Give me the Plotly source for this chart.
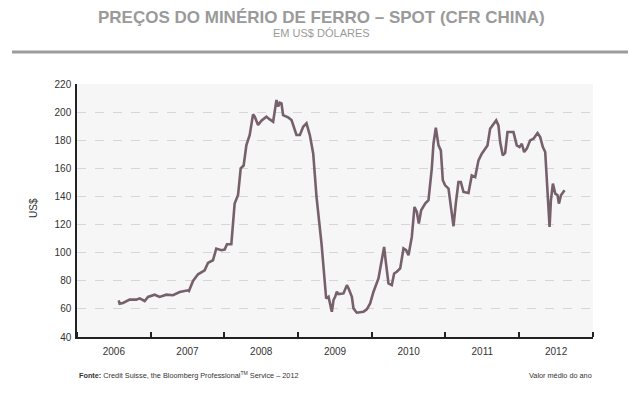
import datetime as dt
import plotly.graph_objects as go

# ---- data (decimal year, US$) ----
anos_decimais = [
    2006.566, 2006.579, 2006.624, 2006.715, 2006.805, 2006.851, 2006.919, 2006.964,
    2007.054, 2007.122, 2007.213, 2007.303, 2007.394, 2007.507, 2007.520, 2007.575,
    2007.643, 2007.733, 2007.778, 2007.846, 2007.891, 2007.959, 2008.005, 2008.036,
    2008.095, 2008.140, 2008.186, 2008.222, 2008.262, 2008.299, 2008.344, 2008.389,
    2008.412, 2008.457, 2008.502, 2008.570, 2008.615, 2008.661, 2008.706, 2008.729,
    2008.751, 2008.774, 2008.796, 2008.864, 2008.910, 2008.932, 2008.977, 2009.023,
    2009.068, 2009.113, 2009.158, 2009.204, 2009.249, 2009.317, 2009.344, 2009.380,
    2009.412, 2009.434, 2009.457, 2009.480, 2009.502, 2009.525, 2009.548, 2009.615,
    2009.661, 2009.683, 2009.729, 2009.751, 2009.796, 2009.887, 2009.932, 2009.977,
    2010.023, 2010.090, 2010.136, 2010.167, 2010.190, 2010.226, 2010.271, 2010.303,
    2010.339, 2010.385, 2010.430, 2010.466, 2010.498, 2010.543, 2010.579, 2010.611,
    2010.638, 2010.670, 2010.724, 2010.769, 2010.814, 2010.837, 2010.869, 2010.905,
    2010.937, 2010.964, 2010.995, 2011.041, 2011.086, 2011.109, 2011.140, 2011.176,
    2011.208, 2011.244, 2011.312, 2011.357, 2011.403, 2011.448, 2011.493, 2011.538,
    2011.570, 2011.606, 2011.652, 2011.688, 2011.719, 2011.742, 2011.778, 2011.810,
    2011.842, 2011.878, 2011.923, 2011.968, 2012.005, 2012.036, 2012.068, 2012.104,
    2012.149, 2012.195, 2012.249, 2012.285, 2012.321, 2012.353, 2012.376, 2012.394,
    2012.412, 2012.430, 2012.457, 2012.489, 2012.520, 2012.538, 2012.566, 2012.615,
]
precos = [
    66.1, 63.7, 64.2, 66.6, 66.6, 67.5, 65.6, 68.5,
    70.1, 68.5, 70.1, 69.7, 72.0, 73.2, 72.7, 79.9,
    84.6, 87.5, 92.7, 94.6, 102.9, 101.7, 102.2, 106.0,
    106.0, 135.0, 141.0, 160.0, 162.0, 176.5, 183.7, 198.4,
    196.7, 190.8, 193.9, 196.7, 194.8, 193.2, 208.6, 203.9,
    206.7, 206.2, 197.9, 196.2, 194.4, 190.8, 183.7, 183.7,
    189.6, 192.0, 183.7, 170.6, 139.7, 106.5, 87.6, 67.4,
    68.6, 63.9, 58.0, 66.3, 68.6, 72.2, 70.5, 71.0,
    76.9, 74.6, 68.6, 60.3, 57.3, 58.0, 59.6, 63.9,
    72.2, 81.7, 93.5, 104.1, 93.5, 78.1, 76.9, 85.2,
    86.4, 88.8, 103.0, 101.8, 98.2, 111.2, 132.5, 129.0,
    120.7, 130.2, 134.9, 137.3, 159.8, 177.5, 188.9, 176.3,
    172.8, 151.5, 147.9, 145.6, 127.8, 118.8, 134.9, 150.3,
    150.3, 143.2, 142.5, 155.0, 153.8, 165.7, 170.4, 174.0,
    176.3, 188.2, 191.7, 194.1, 190.5, 178.7, 169.2, 170.9,
    185.8, 185.8, 185.8, 176.3, 175.1, 177.5, 171.6, 174.0,
    179.9, 181.1, 185.1, 182.2, 175.1, 171.6, 149.1, 127.8,
    118.3, 137.3, 149.1, 142.0, 140.8, 134.9, 140.8, 144.4,
]

titulo = "PREÇOS DO MINÉRIO DE FERRO – SPOT (CFR CHINA)"
subtitulo = "EM US$ DÓLARES"
rotulo_y = "US$"
fonte = "<b>Fonte:</b> Credit Suisse, the Bloomberg Professional<sup>TM</sup> Service – 2012"
nota = "Valor médio do ano"


def para_data(a):
    ano = int(a)
    ini = dt.datetime(ano, 1, 1)
    fim = dt.datetime(ano + 1, 1, 1)
    return ini + (fim - ini) * (a - ano)


datas = [para_data(a) for a in anos_decimais]

# page body has an 8px margin, so the figure is drawn 8px in from the corner
OFF = 8
W, H = 642 - OFF, 399 - OFF
L, R, T, B = 77 - OFF, 49, 84 - OFF, 62
PW, PH = W - L - R, H - T - B


def px(x):
    return (x - OFF - L) / PW


def py(y):
    return (H - B - (y - OFF)) / PH


FONT = "Liberation Sans Narrow, Liberation Sans, Arial, sans-serif"

fig = go.Figure()
fig.add_trace(go.Scatter(
    x=datas, y=precos, mode="lines",
    line=dict(color="#76606c", width=2.6),
    hoverinfo="skip", showlegend=False,
))

fig.update_layout(
    width=W, height=H,
    margin=dict(l=L, r=R, t=T, b=B),
    paper_bgcolor="white",
    plot_bgcolor="#f6f6f6",
    font=dict(family=FONT, size=10, color="#333333"),
    xaxis=dict(
        type="date",
        range=["2006-01-01", "2013-01-01"],
        tick0="2006-01-01", dtick="M12",
        tickformat="%Y", ticklabelmode="period",
        ticks="inside", ticklen=5, tickwidth=1.5, tickcolor="#222222",
        showline=True, linecolor="#222222", linewidth=1.5,
        showgrid=False, zeroline=False, ticklabelstandoff=4,
        tickfont=dict(size=10, color="#333333"),
    ),
    yaxis=dict(
        range=[40, 220], dtick=20, tick0=40,
        showline=True, linecolor="#222222", linewidth=1.5,
        showgrid=True, gridcolor="#d6d6d6", griddash="dash", gridwidth=1,
        zeroline=False, ticks="", ticklabelstandoff=2,
        tickfont=dict(size=10, color="#333333"),
    ),
)

annots = [
    dict(text="<b>" + titulo + "</b>", x=px(321), y=py(17),
         font=dict(size=17, color="#9a9a9a", family="Liberation Sans, Arial, sans-serif"),
         xanchor="center", yanchor="middle"),
    dict(text=subtitulo, x=px(321), y=py(33),
         font=dict(size=11, color="#9a9a9a", family="Liberation Sans, Arial, sans-serif"),
         xanchor="center", yanchor="middle"),
    dict(text=rotulo_y, x=px(33), y=py(208), textangle=-90, font=dict(size=10, color="#333333"),
         xanchor="center", yanchor="middle"),
    dict(text=fonte, x=px(77), y=py(375), font=dict(size=7.3, color="#333333"),
         xanchor="left", yanchor="middle"),
    dict(text=nota, x=px(594), y=py(375), font=dict(size=7.3, color="#333333"),
         xanchor="right", yanchor="middle"),
]
for a in annots:
    a.update(xref="paper", yref="paper", showarrow=False)
    fig.add_annotation(**a)

fig.add_shape(type="line", xref="paper", yref="paper",
              x0=px(12), x1=px(628), y0=py(52), y1=py(52),
              line=dict(color="#9c9c9c", width=3))

fig.write_html("out.html")
